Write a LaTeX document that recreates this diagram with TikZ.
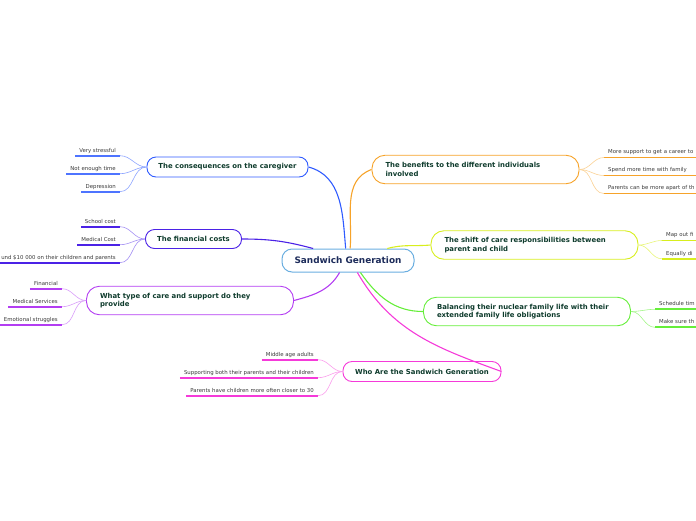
\documentclass[tikz,border=0pt]{standalone}
\usepackage{fontspec}
\setmainfont{DejaVu Sans}

\definecolor{sgblue}{HTML}{6AAEE0}
\definecolor{sgnavy}{HTML}{1C2B5A}
\definecolor{titlegreen}{HTML}{0E3B2C}
\definecolor{leaftext}{HTML}{3A3A3A}
\definecolor{consblue}{HTML}{2F5BFF}
\definecolor{finviolet}{HTML}{4B22E6}
\definecolor{careviolet}{HTML}{B33DF2}
\definecolor{whopink}{HTML}{F53AD9}
\definecolor{benorange}{HTML}{F6A32A}
\definecolor{shiftyellow}{HTML}{D8EE1E}
\definecolor{balgreen}{HTML}{66EE3A}

\begin{document}
\begin{tikzpicture}[x=1pt, y=-1pt,
        topic/.style={draw, line width=0.9pt, rounded corners=9pt, text=titlegreen, font=\fontsize{6.9}{8.2}\selectfont\bfseries, minimum height=20pt},
        topicwide/.style={topic, text width=180pt, align=left, inner xsep=13.5pt, minimum height=28.5pt, rounded corners=13pt},
        leaf/.style={text=leaftext, font=\fontsize{5.4}{6.5}\selectfont, inner xsep=4pt, inner ysep=2.4pt, text depth=1pt},
        twig/.style={line width=0.6pt},
        stem/.style={line width=1.1pt},
        bar/.style={line width=1.8pt}]
        \useasboundingbox (0, 0) rectangle (696, 520);

        \node[draw=sgblue, line width=1pt, rounded corners=10pt, minimum width=132pt, minimum height=23pt, text=sgnavy, font=\fontsize{8.9}{10}\selectfont\bfseries] (sg) at (348, 260.5) {Sandwich Generation};

        \node[topic, draw=consblue, minimum width=161pt] (cons) at (227.5, 167) {The consequences on the caregiver};
        \node[topic, draw=finviolet, minimum width=96pt, minimum height=19pt] (fin) at (193.5, 239) {The financial costs};
        \node[topicwide, draw=careviolet] (care) at (190, 300.5) {What type of care and support do they\\provide};
        \node[topic, draw=whopink, minimum width=158pt] (who) at (422, 371.5) {Who Are the Sandwich Generation};
        \node[topicwide, draw=benorange] (ben) at (475.5, 169.5) {The benefits to the different individuals\\involved};
        \node[topicwide, draw=shiftyellow] (shift) at (534.5, 245) {The shift of care responsibilities between\\parent and child};
        \node[topicwide, draw=balgreen] (bal) at (527, 311.5) {Balancing their nuclear family life with their\\extended family life obligations};

        \path[stem, consblue] (sg.101) edge[out=95, in=-15] (cons.east);
        \path[stem, benorange] (sg.80) edge[out=85, in=200] (ben.west);
        \path[stem, finviolet] (sg.161) edge[out=165, in=0] (fin.east);
        \path[stem, shiftyellow] (sg.17) edge[out=15, in=185] (shift.west);
        \path[stem, careviolet] (sg.235) edge[out=240, in=15] (care.east);
        \path[stem, whopink] (sg.-52) edge[out=-60, in=160] (who.east);
        \path[stem, balgreen] (sg.-44) edge[out=-55, in=180] (bal.west);

        \foreach \t/\y [count=\i] in {Very stressful/155.7, Not enough time/173.7, Depression/191.7}
        {
            \node[leaf, anchor=south east] (cons\i) at (120, \y) {\t};
            \draw[bar, consblue!85] (cons\i.south west) -- (cons\i.south east);
            \path[twig, consblue!55] (cons.west) edge[out=180, in=0] (cons\i.south east);
        }
        \foreach \t/\y [count=\i] in {School cost/226.7, Medical Cost/244.7, und \$10 000 on their children and parents/262.7}
        {
            \node[leaf, anchor=south east] (fin\i) at (120, \y) {\t};
            \draw[bar, finviolet] (fin\i.south west) -- (fin\i.south east);
            \path[twig, finviolet!50] (fin.west) edge[out=180, in=0] (fin\i.south east);
        }
        \foreach \t/\y [count=\i] in {Financial/288.7, Medical Services/306.7, Emotional struggles/324.7}
        {
            \node[leaf, anchor=south east] (care\i) at (62, \y) {\t};
            \draw[bar, careviolet] (care\i.south west) -- (care\i.south east);
            \path[twig, careviolet!50] (care.west) edge[out=180, in=0] (care\i.south east);
        }
        \foreach \t/\y [count=\i] in {Middle age adults/359.7, Supporting both their parents and their children/377.7, Parents have children more often closer to 30/395.7}
        {
            \node[leaf, anchor=south east] (who\i) at (318, \y) {\t};
            \draw[bar, whopink] (who\i.south west) -- (who\i.south east);
            \path[twig, whopink!50] (who.west) edge[out=180, in=0] (who\i.south east);
        }
        \foreach \t/\y [count=\i] in {More support to get a career to/157.5, Spend more time with family/175.5, Parents can be more apart of th/193.5}
        {
            \node[leaf, anchor=south west, text width=84pt] (ben\i) at (604, \y) {\mbox{\t}};
            \draw[bar, benorange] (ben\i.south west) -- (ben\i.south east);
            \path[twig, benorange!50] (ben.east) edge[out=0, in=180] (ben\i.south west);
        }
        \foreach \t/\y [count=\i] in {Map out fi/240.5, Equally di/258.8}
        {
            \node[leaf, anchor=south west, text width=40pt] (shift\i) at (662, \y) {\mbox{\t}};
            \draw[bar, shiftyellow] (shift\i.south west) -- (shift\i.south east);
            \path[twig, shiftyellow!60] (shift.east) edge[out=0, in=180] (shift\i.south west);
        }
        \foreach \t/\y [count=\i] in {Schedule tim/309.3, Make sure th/327.3}
        {
            \node[leaf, anchor=south west, text width=45pt] (bal\i) at (655, \y) {\mbox{\t}};
            \draw[bar, balgreen] (bal\i.south west) -- (bal\i.south east);
            \path[twig, balgreen!60] (bal.east) edge[out=0, in=180] (bal\i.south west);
        }
    \end{tikzpicture}
\end{document}
